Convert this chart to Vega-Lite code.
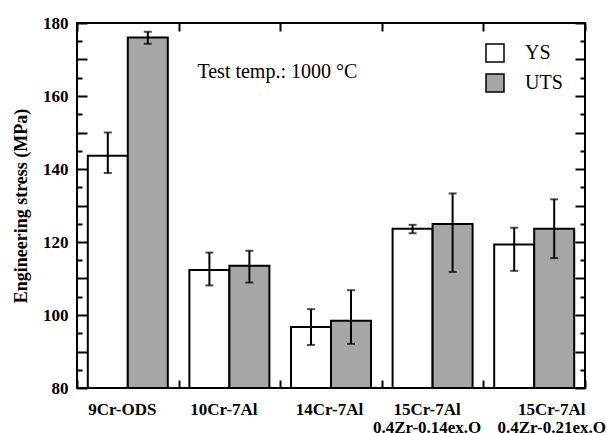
{
  "$schema": "https://vega.github.io/schema/vega-lite/v6.json",
  "width": 508,
  "height": 365,
  "autosize": {"type": "none"},
  "padding": {"left": 77, "top": 23, "right": 22, "bottom": 45},
  "background": "white",
  "config": {
    "font": "Liberation Serif",
    "view": {"stroke": "black", "strokeWidth": 2},
    "axis": {"grid": false, "domain": false, "tickColor": "black", "tickWidth": 2, "labelColor": "black", "titleColor": "black", "labelFont": "Liberation Serif", "titleFont": "Liberation Serif"}
  },
  "data": {
    "values": [
      {"alloy": "9Cr-ODS", "type": "YS", "value": 143.6, "low": 138.9, "high": 150.0},
      {"alloy": "9Cr-ODS", "type": "UTS", "value": 176.0, "low": 174.3, "high": 177.6},
      {"alloy": "10Cr-7Al", "type": "YS", "value": 112.3, "low": 108.1, "high": 117.1},
      {"alloy": "10Cr-7Al", "type": "UTS", "value": 113.5, "low": 108.9, "high": 117.6},
      {"alloy": "14Cr-7Al", "type": "YS", "value": 96.7, "low": 91.8, "high": 101.6},
      {"alloy": "14Cr-7Al", "type": "UTS", "value": 98.4, "low": 92.1, "high": 106.8},
      {"alloy": "15Cr-7Al|0.4Zr-0.14ex.O", "type": "YS", "value": 123.6, "low": 122.4, "high": 124.7},
      {"alloy": "15Cr-7Al|0.4Zr-0.14ex.O", "type": "UTS", "value": 124.9, "low": 111.8, "high": 133.3},
      {"alloy": "15Cr-7Al|0.4Zr-0.21ex.O", "type": "YS", "value": 119.3, "low": 112.1, "high": 123.9},
      {"alloy": "15Cr-7Al|0.4Zr-0.21ex.O", "type": "UTS", "value": 123.6, "low": 115.6, "high": 131.7}
    ]
  },
  "resolve": {"axis": {"x": "independent", "y": "independent"}},
  "layer": [
    {
      "mark": {"type": "bar", "stroke": "black", "strokeWidth": 2},
      "encoding": {
        "x": {"field": "alloy", "type": "nominal", "sort": null,
          "scale": {"paddingInner": 0, "paddingOuter": 0},
          "axis": {"orient": "bottom", "title": null, "tickBand": "extent", "tickSize": -8, "labelAngle": 0,
            "labelFontSize": 17, "labelFontWeight": "bold", "labelLineHeight": 18, "labelBaseline": "middle", "labelPadding": 29,
            "labelOffset": {"condition": [
              {"test": "datum.value === '15Cr-7Al|0.4Zr-0.21ex.O'", "value": 17},
              {"test": "datum.value === '14Cr-7Al'", "value": -2}
            ], "value": -6},
            "labelExpr": "split(datum.label, '|')"}},
        "xOffset": {"field": "type", "type": "nominal", "scale": {"domain": ["YS", "UTS"], "paddingOuter": 0.27, "paddingInner": 0}},
        "y": {"field": "value", "type": "quantitative",
          "scale": {"domain": [80, 180], "nice": false, "zero": false},
          "axis": {"orient": "left", "values": [80,100,120,140,160,180], "ticks": false,
            "labelPadding": 9, "labelFontSize": 17, "labelFontWeight": "bold",
            "title": "Engineering stress (MPa)", "titleFontSize": 18, "titleFontWeight": "bold", "titlePadding": 12}},
        "y2": {"datum": 80},
        "fill": {"field": "type", "type": "nominal",
          "scale": {"domain": ["YS", "UTS"], "range": ["white", "#a6a6a6"]},
          "legend": {"orient": "none", "legendX": 408, "legendY": 20, "title": null, "padding": 0,
            "symbolType": "square", "symbolSize": 324, "symbolStrokeColor": "black", "symbolStrokeWidth": 1.5,
            "labelFont": "Liberation Serif", "labelFontSize": 20, "labelColor": "black", "labelOffset": 20, "rowPadding": 6}}
      }
    },
    {
      "mark": {"type": "rule", "stroke": "black", "strokeWidth": 2},
      "encoding": {
        "x": {"field": "alloy", "type": "nominal", "sort": null,
          "axis": {"orient": "top", "title": null, "tickBand": "extent", "tickSize": -8, "labels": false}},
        "xOffset": {"field": "type", "type": "nominal"},
        "y": {"field": "low", "type": "quantitative",
          "axis": {"orient": "right", "title": null, "labels": false, "values": [80,90,100,110,120,130,140,150,160,170,180], "tickSize": -10}},
        "y2": {"field": "high"}
      }
    },
    {
      "mark": {"type": "tick", "color": "black", "thickness": 2, "size": 8},
      "encoding": {
        "x": {"field": "alloy", "type": "nominal", "sort": null, "axis": null},
        "xOffset": {"field": "type", "type": "nominal"},
        "y": {"field": "low", "type": "quantitative",
          "axis": {"orient": "left", "offset": -10, "title": null, "labels": false, "values": [80,90,100,110,120,130,140,150,160,170,180], "tickSize": 10}}
      }
    },
    {
      "mark": {"type": "tick", "color": "black", "thickness": 2, "size": 8},
      "encoding": {
        "x": {"field": "alloy", "type": "nominal", "sort": null, "axis": null},
        "xOffset": {"field": "type", "type": "nominal"},
        "y": {"field": "high", "type": "quantitative",
          "axis": {"orient": "right", "title": null, "labels": false, "values": [85,95,105,115,125,135,145,155,165,175], "tickSize": -5}}
      }
    },
    {
      "data": {"values": [{"label": "Test temp.: 1000 °C"}]},
      "mark": {"type": "text", "font": "Liberation Serif", "fontSize": 20, "fontWeight": "normal", "align": "left", "baseline": "middle", "dx": -32, "color": "black"},
      "encoding": {
        "text": {"field": "label"},
        "x": {"datum": "10Cr-7Al", "type": "nominal", "axis": null},
        "y": {"datum": 166.6, "type": "quantitative",
          "axis": {"orient": "left", "offset": -5, "title": null, "labels": false, "values": [85,95,105,115,125,135,145,155,165,175], "tickSize": 5}}
      }
    }
  ]
}
